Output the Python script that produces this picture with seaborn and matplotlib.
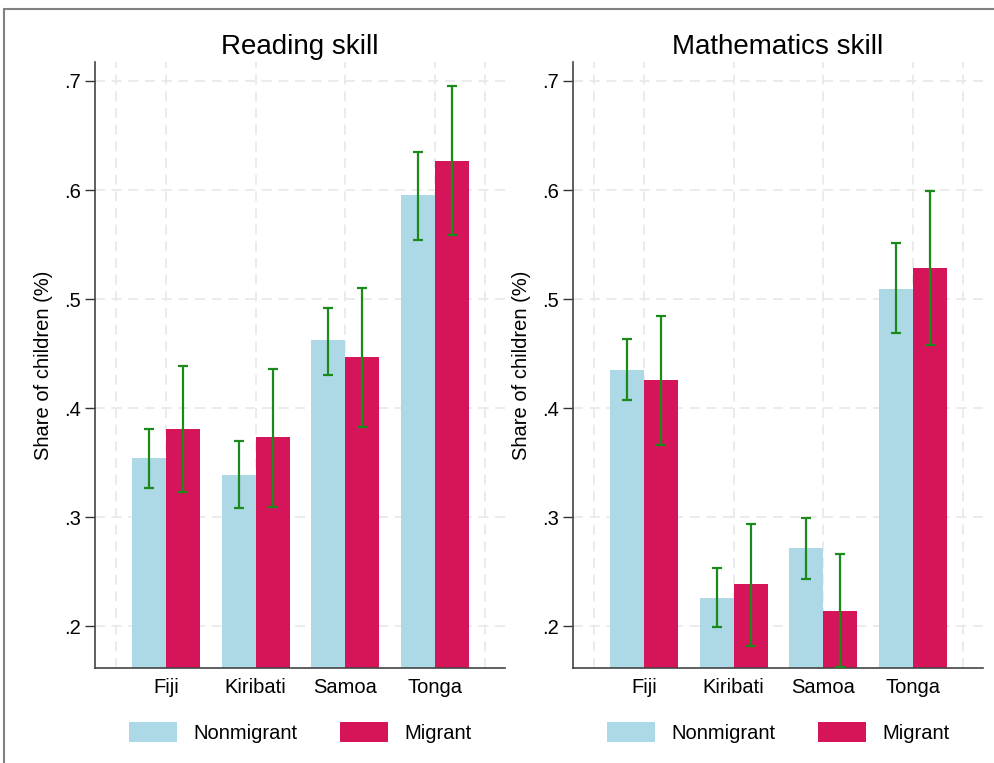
import pandas as pd
import seaborn as sns
import matplotlib.pyplot as plt
from matplotlib.lines import Line2D

# Countries and groups
countries = ['Fiji', 'Kiribati', 'Samoa', 'Tonga']
groups = ['Nonmigrant', 'Migrant']

# Reading skill: mean share and 95% CI bounds
read_nonmig = [0.354, 0.339, 0.462, 0.595]
read_nonmig_lo = [0.327, 0.308, 0.430, 0.554]
read_nonmig_hi = [0.381, 0.370, 0.492, 0.635]
read_mig = [0.381, 0.373, 0.447, 0.627]
read_mig_lo = [0.323, 0.309, 0.383, 0.559]
read_mig_hi = [0.439, 0.436, 0.510, 0.695]

# Mathematics skill
math_nonmig = [0.435, 0.226, 0.272, 0.509]
math_nonmig_lo = [0.407, 0.199, 0.243, 0.469]
math_nonmig_hi = [0.463, 0.253, 0.299, 0.551]
math_mig = [0.426, 0.239, 0.214, 0.528]
math_mig_lo = [0.366, 0.182, 0.162, 0.458]
math_mig_hi = [0.484, 0.294, 0.266, 0.599]

yticks = [0.2, 0.3, 0.4, 0.5, 0.6, 0.7]
ytick_labels = ['.2', '.3', '.4', '.5', '.6', '.7']

colors = {'Nonmigrant': '#ADD8E6', 'Migrant': '#D6145A'}
err_color = '#1a8a1a'

panels = [
    ('Reading skill', read_nonmig, read_nonmig_lo, read_nonmig_hi, read_mig, read_mig_lo, read_mig_hi),
    ('Mathematics skill', math_nonmig, math_nonmig_lo, math_nonmig_hi, math_mig, math_mig_lo, math_mig_hi),
]

sns.set_style('white')
plt.rcParams['font.family'] = ['Liberation Sans', 'DejaVu Sans']
plt.rcParams['text.color'] = 'black'
plt.rcParams['xtick.color'] = 'black'
plt.rcParams['ytick.color'] = 'black'
plt.rcParams['axes.labelcolor'] = 'black'

fig = plt.figure(figsize=(9.94, 7.63), dpi=100)
ax_pos = [[0.0956, 0.1245, 0.4124, 0.7942], [0.5765, 0.1245, 0.4124, 0.7942]]

for pos, (title, nm, nm_lo, nm_hi, mg, mg_lo, mg_hi) in zip(ax_pos, panels):
    ax = fig.add_axes(pos)
    df = pd.DataFrame({
        'country': countries * 2,
        'group': ['Nonmigrant'] * 4 + ['Migrant'] * 4,
        'value': nm + mg,
    })
    sns.barplot(data=df, x='country', y='value', hue='group', order=countries,
                hue_order=groups, palette=colors, width=0.76, errorbar=None,
                saturation=1, linewidth=0, ax=ax, zorder=2)

    # error bars at the bar centres
    for cont, vals, lo, hi in zip(ax.containers, [nm, mg], [nm_lo, mg_lo], [nm_hi, mg_hi]):
        xs = [b.get_x() + b.get_width() / 2 for b in cont]
        yerr = [[v - l for v, l in zip(vals, lo)], [h - v for v, h in zip(vals, hi)]]
        ax.errorbar(xs, vals, yerr=yerr, fmt='none', ecolor=err_color,
                    elinewidth=1.6, capsize=3.5, capthick=1.6, zorder=3)

    ax.set_ylim(0.1615, 0.7174)
    ax.set_xlim(-0.79, 3.78)
    ax.set_yticks(yticks)
    ax.set_yticklabels(ytick_labels, fontsize=14.5)
    ax.set_xticks([-0.56, 0, 1, 2, 3, 3.56])
    ax.set_xticklabels([''] + countries + [''], fontsize=14.5)
    ax.tick_params(axis='x', length=0, pad=7)
    ax.tick_params(axis='y', length=7, width=1, color='#333333', left=True, pad=3)

    ax.grid(True, color='#e8e8e8', linestyle=(0, (6, 4)), linewidth=1.2, zorder=0)
    ax.set_axisbelow(True)
    for s in ['top', 'right']:
        ax.spines[s].set_visible(False)
    for s in ['left', 'bottom']:
        ax.spines[s].set_color('#444444')
        ax.spines[s].set_linewidth(1.2)

    ax.set_title(title, fontsize=20, pad=6)
    ax.set_xlabel('')
    ax.set_ylabel('Share of children (%)', fontsize=14.5, labelpad=8)

    handles, labels = ax.get_legend_handles_labels()
    ax.legend(handles, labels, loc='upper center', bbox_to_anchor=(0.5, -0.06),
              ncol=2, frameon=False, fontsize=14.5, handlelength=2.4, handleheight=1.1,
              handletextpad=0.8, columnspacing=2.1)

# outer frame (top and left edges visible)
fig.add_artist(Line2D([4 / 994, 1], [1 - 9 / 763, 1 - 9 / 763], color='#808080', lw=1.5))
fig.add_artist(Line2D([4 / 994, 4 / 994], [0, 1 - 9 / 763], color='#808080', lw=1.5))

fig.savefig('out.png', dpi=100)
